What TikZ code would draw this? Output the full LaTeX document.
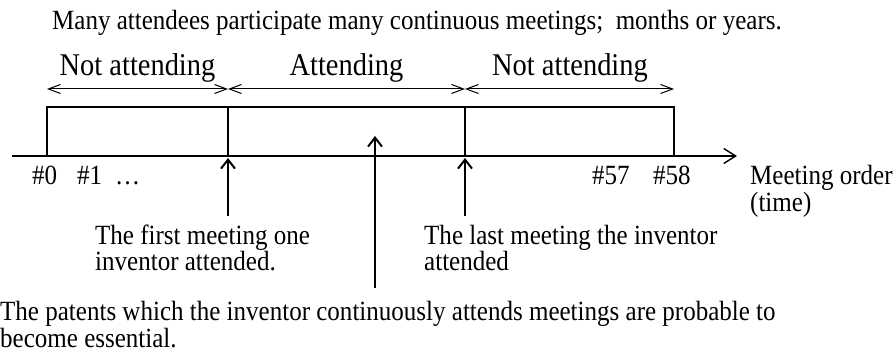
\documentclass[tikz,border=0pt]{standalone}
\usepackage{fontspec}
\setmainfont{Liberation Serif}[FakeStretch=0.9]
\usetikzlibrary{arrows.meta}
\begin{document}
\begin{tikzpicture}[x=1pt,y=-1pt,
  txt/.style={inner sep=0pt, anchor=base west, font=\fontsize{27.8}{29}\selectfont},
  head/.style={inner sep=0pt, anchor=base, font=\fontsize{31.6}{33}\selectfont},
  span/.style={line width=1pt, {Straight Barb[length=12pt,width=9pt]}-{Straight Barb[length=12pt,width=9pt]}},
  frame/.style={line width=2.2pt},
  axis/.style={line width=1.4pt, -{Straight Barb[length=12pt,width=15pt]}},
  pointer/.style={line width=2pt, -{Straight Barb[length=9pt,width=14pt]}}
]
\useasboundingbox (0,0) rectangle (896,352);

% caption line
\node[txt] (title) at (52,30) {Many attendees participate many continuous meetings;\hspace{0.45em}months or years.};

% key points of the timeline box
\coordinate (b0)  at (47,156);
\coordinate (b0t) at (47,107);
\coordinate (d1)  at (228,156);
\coordinate (d1t) at (228,107);
\coordinate (d2)  at (465,156);
\coordinate (d2t) at (465,107);
\coordinate (b3)  at (674,156);
\coordinate (b3t) at (674,107);

% time axis
\coordinate (ax0) at (12,156);
\coordinate (ax1) at (737,156);
\draw[axis] (ax0) -- (ax1);

% the box with its two dividers
\draw[frame] (b0) -- (b0t) -- (b3t) -- (b3) -- cycle;
\draw[frame] (d1) -- (d1t);
\draw[frame] (d2) -- (d2t);

% spans above the box
\coordinate (s0) at (47,89);
\coordinate (s1) at (228,89);
\coordinate (s2) at (465,89);
\coordinate (s3) at (674,89);
\draw[span] (s0) -- (s1);
\draw[span] (s1) -- (s2);
\draw[span] (s2) -- (s3);
\node[head] (h1) at (137.5,76) {Not attending};
\node[head] (h2) at (346.5,76) {Attending};
\node[head] (h3) at (570,76) {Not attending};

% meeting numbers
\node[txt] (m0) at (32,185) {\#0};
\node[txt] (m1) at (77,185) {\#1};
\node[txt] (m2) at (115,185) {…};
\node[txt] (m57) at (592,185) {\#57};
\node[txt] (m58) at (653,185) {\#58};
\node[txt] (ord) at (750,185) {Meeting order};
\node[txt] (tim) at (750,212) {(time)};

% pointers
\coordinate (p1) at (228,216);
\coordinate (q1) at (228,158);
\coordinate (p2) at (465,216);
\coordinate (q2) at (465,158);
\coordinate (pm) at (375,288);
\coordinate (qm) at (375,136);
\draw[pointer] (p1) -- (q1);
\draw[pointer] (p2) -- (q2);
\draw[pointer] (pm) -- (qm);

% notes
\node[txt] (f1) at (95,245) {The first meeting one};
\node[txt] (f2) at (95,271) {inventor attended.};
\node[txt] (l1) at (424,245) {The last meeting the inventor};
\node[txt] (l2) at (424,271) {attended};
\node[txt] (c1) at (0,320) {The patents which the inventor continuously attends meetings are probable to};
\node[txt] (c2) at (0,347) {become essential.};
\end{tikzpicture}
\end{document}
